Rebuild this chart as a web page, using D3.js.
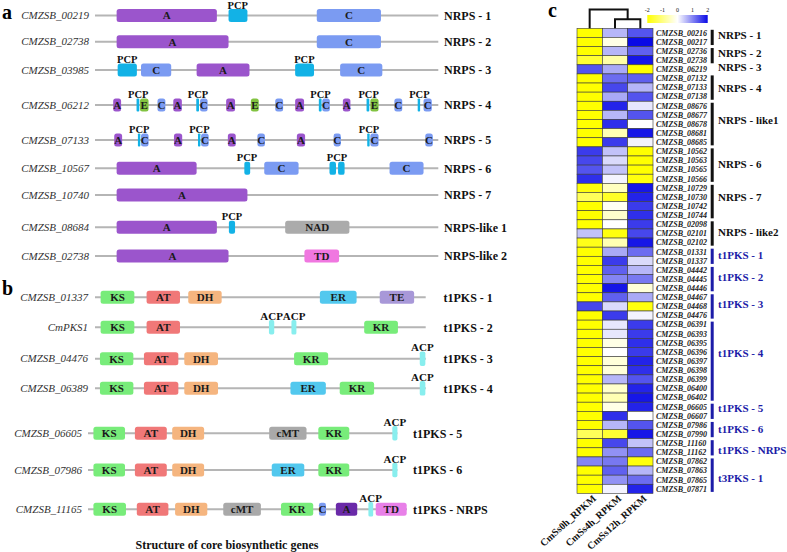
<!DOCTYPE html>
<html><head><meta charset="utf-8">
<script src="https://cdn.jsdelivr.net/npm/d3@7"></script>
<style>
body{margin:0;background:#fff}
svg{display:block}
text{font-family:"Liberation Serif","Times New Roman",serif}
</style>
</head><body>
<svg id="c" width="787" height="552"></svg>
<script>
// ---------------- DATA ----------------
// Panel a: NRPS genes (domain positions in % of protein length)
const nrpsGenes = ["CMZSB_00219","CMZSB_02738","CMZSB_03985","CMZSB_06212","CMZSB_07133","CMZSB_10567","CMZSB_10740","CMZSB_08684","CMZSB_02738"];
const nrpsClasses = ["NRPS - 1","NRPS - 2","NRPS - 3","NRPS - 4","NRPS - 5","NRPS - 6","NRPS - 7","NRPS-like 1","NRPS-like 2"];
const nrpsDomains = [
  [["A",6.3,35.5],["PCP",38.9,44.4],["C",64.6,83.3]],
  [["A",6.3,38.9],["C",64.6,83.3]],
  [["PCP",6.6,12.2],["C",13.4,22.2],["A",29.6,45.0],["PCP",58.3,63.8],["C",71.4,83.7]],
  [["A",5.3,7.6],["PCP",12.1,12.9],["E",13.1,15.6],["C",18.2,20.5],["A",22.8,25.3],["PCP",29.5,30.3],["C",30.6,32.8],["A",38.2,40.8],["E",45.4,47.7],["C",52.5,54.8],["A",58.3,60.9],["PCP",65.2,66.0],["C",66.2,68.4],["A",72.2,74.4],["PCP",79.1,79.9],["E",80.2,82.6],["C",87.2,89.5],["PCP",94.0,94.7],["C",95.7,98.1]],
  [["A",5.6,7.9],["PCP",12.5,13.2],["C",13.4,15.6],["A",23.0,25.4],["PCP",30.0,30.7],["C",30.9,33.1],["A",38.7,41.0],["C",47.3,49.5],["A",58.8,61.2],["C",69.5,71.6],["PCP",79.3,80.0],["C",80.2,82.6],["C",96.2,98.4]],
  [["A",6.3,29.6],["PCP",43.5,45.2],["C",49.3,59.3],["PCP",68.3,70.2],["PCP",70.8,72.7],["C",85.8,95.7]],
  [["A",6.3,44.4]],
  [["A",6.3,35.5],["PCP",39.0,40.8],["NAD",55.4,74.1]],
  [["A",6.3,38.9],["TD",61.0,71.1]]
];
// PCP carrier labels: [row index, centre position %]
const nrpsPcpLabels = [[0,41.6],[2,9.4],[2,61.0],[3,12.6],[3,30.0],[3,65.7],[3,79.7],[3,94.5],[4,12.9],[4,30.4],[4,79.8],[5,44.3],[5,70.5],[7,39.9]];

// Panel b: t1PKS genes
const pksGenes = ["CMZSB_01337","CmPKS1","CMZSB_04476","CMZSB_06389","CMZSB_06605","CMZSB_07986","CMZSB_11165"];
const pksClasses = ["t1PKS - 1","t1PKS - 2","t1PKS - 3","t1PKS - 4","t1PKS - 5","t1PKS - 6","t1PKS - NRPS"];
const pksLineEnd = [100,100,100,100,97,97,100];
const pksDomains = [
  [["KS",1.7,11.9],["AT",15.6,25.7],["DH",28.2,38.3],["ER",68.0,79.1],["TE",86.1,96.5]],
  [["KS",1.7,11.9],["AT",15.6,25.7],["ACP",52.6,54.2],["ACP",59.4,60.9],["KR",81.4,91.6]],
  [["KS",1.5,11.6],["AT",14.8,25.2],["DH",27.0,37.2],["KR",60.2,70.5],["ACP",98.2,99.9]],
  [["KS",1.5,11.6],["AT",14.8,25.2],["DH",27.0,37.2],["ER",59.1,69.8],["KR",74.0,84.4],["ACP",98.2,99.9]],
  [["KS",1.7,11.6],["AT",14.7,24.7],["DH",26.4,36.4],["cMT",56.8,68.5],["KR",72.2,81.9],["ACP",95.4,97.0]],
  [["KS",1.7,11.6],["AT",14.7,24.7],["DH",26.4,36.4],["ER",57.6,67.8],["KR",72.2,81.9],["ACP",95.4,97.0]],
  [["KS",1.7,11.9],["AT",15.3,25.2],["DH",27.3,37.4],["cMT",42.4,54.2],["KR",60.5,70.6],["Cs",72.4,74.6],["Ad",77.7,84.4],["ACP",87.9,89.4],["TD2",90.2,99.9]]
];
const pksAcpLabels = [[1,53.4],[1,60.2],[2,99.0],[3,99.0],[4,96.2],[5,96.2],[6,88.6]];

// Panel c: heatmap (z-scores of RPKM)
const hmSamples = ["CmSs0h_RPKM","CmSs4h_RPKM","CmSs12h_RPKM"];
const hmGenes = ["CMZSB_00216","CMZSB_00217","CMZSB_02736","CMZSB_02738","CMZSB_06219","CMZSB_07132","CMZSB_07133","CMZSB_07138","CMZSB_08676","CMZSB_08677","CMZSB_08678","CMZSB_08681","CMZSB_08685","CMZSB_10562","CMZSB_10563","CMZSB_10565","CMZSB_10566","CMZSB_10729","CMZSB_10730","CMZSB_10742","CMZSB_10744","CMZSB_02098","CMZSB_02101","CMZSB_02102","CMZSB_01331","CMZSB_01337","CMZSB_04442","CMZSB_04445","CMZSB_04446","CMZSB_04467","CMZSB_04468","CMZSB_04476","CMZSB_06391","CMZSB_06393","CMZSB_06395","CMZSB_06396","CMZSB_06397","CMZSB_06398","CMZSB_06399","CMZSB_06400","CMZSB_06402","CMZSB_06605","CMZSB_06607","CMZSB_07986","CMZSB_07990","CMZSB_11160","CMZSB_11162","CMZSB_07862","CMZSB_07863","CMZSB_07865","CMZSB_07871"];
const hm0h  = [-2,-2,-2,-1.6,1.4,-2,-2,-2,-2,-2,-2,-2,-2,1.6,1.5,1.4,1.7,-1.9,-1.3,-2,-2,-2,0.5,-1.8,-2,-2,-2,-2,-2,-2,1.5,-2,-2,-2,-2,-2,-2,-2,-2,-2,-2,-2,-2,-2,-1.3,-2,-2,1.0,-2,-2,-2];
const hm4h  = [0.6,-0.2,0.6,-0.7,0.7,1.2,1.5,0.7,1.8,0.6,1.7,-0.6,1.6,0.5,0.3,0.5,0.1,-0.5,-1.7,-0.1,-0.4,0.0,-1.9,-0.6,0.7,1.6,1.3,1.0,1.9,1.3,0.3,1.6,0.2,0.2,-0.2,0.0,-0.3,-0.3,0.6,-0.4,-0.6,-0.2,1.7,0.6,-1.6,1.5,0.9,1.1,1.3,0.9,0.1];
const hm12h = [1.4,2.0,1.3,1.9,-2,1.3,0.6,1.4,0.2,1.4,0.0,1.9,0.1,-2,-2,-2,-1.9,1.9,1.8,1.6,1.7,1.6,1.5,1.9,1.2,0.3,0.6,1.1,-0.3,0.7,-1.9,0.1,1.6,1.6,1.7,1.6,1.8,1.7,1.4,1.8,1.9,1.8,0.0,1.4,1.9,0.5,1.2,-1.9,0.6,1.2,1.8];
// groups: [label, first row, last row, kind, has bar, label centre (row units)]
const hmGroups = [
  ["NRPS - 1",0,1,"nrps",true,0.75],
  ["NRPS - 2",2,3,"nrps",true,2.75],
  ["NRPS - 3",4,4,"nrps",false,4.25],
  ["NRPS - 4",5,7,"nrps",true,6.6],
  ["NRPS - like1",8,12,"nrps",true,10.1],
  ["NRPS - 6",13,16,"nrps",true,14.9],
  ["NRPS - 7",17,20,"nrps",true,18.5],
  ["NRPS - like2",21,23,"nrps",true,22.3],
  ["t1PKS - 1",24,25,"pks",true,24.9],
  ["t1PKS - 2",26,28,"pks",true,27.3],
  ["t1PKS - 3",29,31,"pks",true,30.2],
  ["t1PKS - 4",32,40,"pks",true,35.6],
  ["t1PKS - 5",41,42,"pks",true,41.7],
  ["t1PKS - 6",43,44,"pks",true,43.9],
  ["t1PKS - NRPS",45,46,"pks",true,46.3],
  ["t3PKS - 1",47,50,"pks",true,49.3]
];
const legendTicks = [-2,-1,0,1,2];

// ---------------- STYLES ----------------
const dStyle = {
  A:{fill:"#9b55cc",t:"A"}, C:{fill:"#7b9bf2",t:"C"}, E:{fill:"#82c341",t:"E"},
  PCP:{fill:"#12b2e6",t:""}, NAD:{fill:"#ababab",t:"NAD"}, TD:{fill:"#f077e0",t:"TD"},
  KS:{fill:"#78ec7a",t:"KS"}, AT:{fill:"#f07878",t:"AT"}, DH:{fill:"#f5b57f",t:"DH"},
  ER:{fill:"#52c8ee",t:"ER"}, KR:{fill:"#78ec7a",t:"KR"}, TE:{fill:"#a898d8",t:"TE"},
  ACP:{fill:"#88eeee",t:"",h:14.5}, cMT:{fill:"#a9a9a9",t:"cMT"},
  Cs:{fill:"#7b9bf2",t:"C"}, Ad:{fill:"#6a2aa8",t:"A"}, TD2:{fill:"#e880e8",t:"TD"}
};
const svg = d3.select("#c");

function track(g, x, y, gene, cls, doms, lineEnd, nameX, clsX, boxH) {
  g.append("line").attr("x1", x(0)).attr("x2", x(lineEnd)).attr("y1", y).attr("y2", y)
    .attr("stroke", "#b5b5b5").attr("stroke-width", 2);
  g.append("text").attr("x", nameX).attr("y", y).attr("dy", "0.33em").attr("text-anchor", "end")
    .attr("font-style", "italic").attr("font-size", 11).attr("fill", "#333").text(gene);
  g.append("text").attr("x", clsX).attr("y", y).attr("dy", "0.35em")
    .attr("font-weight", "bold").attr("font-size", 12).attr("fill", "#111").text(cls);
  doms.forEach(([t, s, e]) => {
    const st = dStyle[t], h = st.h || boxH, w = x(e) - x(s);
    g.append("rect").attr("x", x(s)).attr("y", y - h / 2).attr("width", w).attr("height", h)
      .attr("rx", Math.min(2.5, w / 3)).attr("fill", st.fill);
    if (st.t) g.append("text").attr("x", (x(s) + x(e)) / 2).attr("y", y).attr("dy", "0.35em")
      .attr("text-anchor", "middle").attr("font-weight", "bold").attr("font-size", 11)
      .attr("fill", "#1a1a1a").text(st.t);
  });
}

// ---------------- PANEL A ----------------
const xa = d3.scaleLinear().domain([0, 100]).range([95, 438.3]);
const rowYa = [15.5, 41.7, 70, 105, 140, 168.3, 195, 227.3, 256];
const ga = svg.append("g");
nrpsGenes.forEach((gn, i) => track(ga, xa, rowYa[i], gn, nrpsClasses[i], nrpsDomains[i], 100, 89, 444, 13));
nrpsPcpLabels.forEach(([r, p]) => ga.append("text").attr("x", xa(p)).attr("y", rowYa[r] - 7)
  .attr("text-anchor", "middle").attr("font-weight", "bold").attr("font-size", 10.5).attr("fill", "#111").text("PCP"));
svg.append("text").attr("x", 2).attr("y", 19).attr("font-weight", "bold").attr("font-size", 20).text("a");

// ---------------- PANEL B ----------------
const xb1 = d3.scaleLinear().domain([0, 100]).range([95, 425.7]);
const xb2 = d3.scaleLinear().domain([0, 100]).range([88, 407]);
const rowYb = [297.3, 327.3, 358.7, 388.3, 433.3, 470, 509.3];
const gb = svg.append("g");
pksGenes.forEach((gn, i) => {
  const x = i < 4 ? xb1 : xb2;
  track(gb, x, rowYb[i], gn, pksClasses[i], pksDomains[i], pksLineEnd[i], i < 4 ? 88 : 82, i < 4 ? 443.5 : 413, 13);
});
pksAcpLabels.forEach(([r, p]) => {
  const x = r < 4 ? xb1 : xb2;
  gb.append("text").attr("x", x(p)).attr("y", rowYb[r] - 7.5).attr("text-anchor", "middle")
    .attr("font-weight", "bold").attr("font-size", 11).attr("fill", "#111").text("ACP");
});
svg.append("text").attr("x", 2).attr("y", 295).attr("font-weight", "bold").attr("font-size", 20).text("b");
svg.append("text").attr("x", 227).attr("y", 549).attr("text-anchor", "middle")
  .attr("font-weight", "bold").attr("font-size", 12).attr("fill", "#111").text("Structure of core biosynthetic genes");

// ---------------- PANEL C ----------------
const hmX = d3.scaleBand().domain(hmSamples).range([577, 653]);
const hmY = d3.scaleLinear().domain([0, hmGenes.length]).range([28.3, 493.4]);
const color = d3.scaleLinear().domain([-2, 0, 2]).range(["#ffff00", "#ffffff", "#0a0ae6"]);
const gc = svg.append("g");
const cols = [hm0h, hm4h, hm12h];
hmSamples.forEach((s, j) => {
  cols[j].forEach((v, i) => {
    gc.append("rect").attr("x", hmX(s)).attr("y", hmY(i)).attr("width", hmX.bandwidth())
      .attr("height", hmY(i + 1) - hmY(i)).attr("fill", color(v))
      .attr("stroke", "#3a3a3a").attr("stroke-width", 0.6);
  });
  const cx = hmX(s) + hmX.bandwidth() / 2;
  gc.append("text").attr("transform", `translate(${cx + 7},${hmY(hmGenes.length) + 6}) rotate(-42)`)
    .attr("text-anchor", "end").attr("font-weight", "bold").attr("font-size", 10).attr("fill", "#111").text(s);
});
hmGenes.forEach((gn, i) => gc.append("text").attr("x", 656).attr("y", (hmY(i) + hmY(i + 1)) / 2)
  .attr("dy", "0.35em").attr("font-style", "italic").attr("font-weight", "bold").attr("font-size", 8)
  .attr("fill", "#222").text(gn));
hmGroups.forEach(([lab, a, b, kind, bar, lc]) => {
  const col = kind === "nrps" ? "#111" : "#1c1ca8";
  if (bar) gc.append("rect").attr("x", 710.7).attr("y", hmY(a) + 1.5).attr("width", 3)
    .attr("height", hmY(b + 1) - hmY(a) - 3).attr("fill", col);
  gc.append("text").attr("x", 718).attr("y", hmY(lc)).attr("dy", "0.35em")
    .attr("font-weight", "bold").attr("font-size", 11).attr("fill", col).text(lab);
});
// dendrogram
const cxs = hmSamples.map(s => hmX(s) + hmX.bandwidth() / 2);
const dTop = hmY(0), h1 = 9.5, h2 = 19.3;
const dend = [
  [[cxs[1], dTop], [cxs[1], h2], [cxs[2], h2], [cxs[2], dTop]],
  [[cxs[0], dTop], [cxs[0], h1], [(cxs[1] + cxs[2]) / 2, h1], [(cxs[1] + cxs[2]) / 2, h2]]
];
dend.forEach(p => gc.append("path").attr("d", d3.line()(p)).attr("fill", "none").attr("stroke", "#111").attr("stroke-width", 2));
// legend
const lx = d3.scaleLinear().domain([-2, 2]).range([647.3, 707.7]);
const defs = svg.append("defs");
const grad = defs.append("linearGradient").attr("id", "lg");
legendTicks.forEach(t => grad.append("stop").attr("offset", (t + 2) / 4).attr("stop-color", color(t)));
gc.append("rect").attr("x", lx(-2)).attr("y", 15).attr("width", lx(2) - lx(-2)).attr("height", 8).attr("fill", "url(#lg)");
legendTicks.forEach(t => gc.append("text").attr("x", lx(t)).attr("y", 12).attr("text-anchor", "middle")
  .attr("font-size", 6).attr("fill", "#111").text(t));
svg.append("text").attr("x", 548).attr("y", 17).attr("font-weight", "bold").attr("font-size", 20).text("c");
</script>
</body></html>
